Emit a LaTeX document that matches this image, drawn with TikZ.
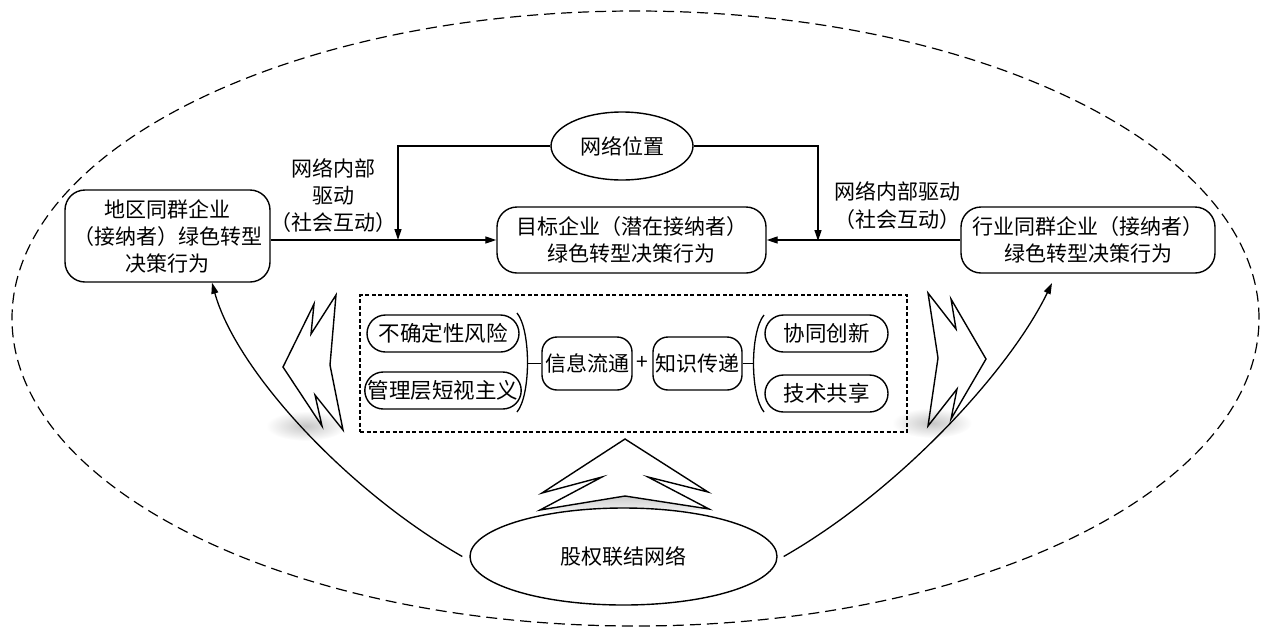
\documentclass[tikz,border=0pt]{standalone}
\usepackage{fontspec}
\setmainfont{Noto Sans CJK SC}
\usetikzlibrary{arrows.meta,shapes.geometric,shapes.misc}
\tikzset{
  base/.style={line width=1.3pt},
  txt/.style={font=\fontsize{21}{27}\selectfont, align=center, inner sep=0pt},
  bigbox/.style={txt, draw, line width=1.4pt, rounded corners=20pt},
  midbox/.style={txt, draw, line width=1.4pt, rounded corners=15pt},
  pill/.style={txt, draw, line width=1.4pt, rounded rectangle, font=\fontsize{21.5}{26}\selectfont},
  oval/.style={txt, draw, line width=1.4pt, ellipse},
  frame/.style={draw, line width=1.2pt, dash pattern=on 4pt off 2.5pt, inner sep=0pt},
  outer/.style={line width=1.2pt, dash pattern=on 11pt off 6pt},
  arr/.style={line width=1.3pt, -{Triangle[length=11pt,width=7pt]}},
  chev/.style={line width=1.4pt, line join=miter},
}
\begin{document}
\begin{tikzpicture}[x=1pt,y=-1pt]
\useasboundingbox (0,0) rectangle (1263,630);
% outer dashed ellipse
\draw[outer] (635.5,318.5) ellipse [x radius=623.5pt, y radius=307.5pt];

% shadows
\shade[inner color=gray!45, outer color=white] (306,426) ellipse [x radius=40pt, y radius=15pt];
\shade[inner color=gray!45, outer color=white] (932,423) ellipse [x radius=40pt, y radius=15pt];
\shade[top color=gray!40, bottom color=white] (540,510) -- (625,496) -- (709,509) -- (625,516) -- cycle;

% nodes
\node[oval, minimum width=142pt, minimum height=68pt] (pos) at (622,146) {网络位置};
\node[bigbox, minimum width=205pt, minimum height=92pt] (left) at (167.5,236) {地区同群企业\\（接纳者）绿色转型\\决策行为};
\node[bigbox, minimum width=269pt, minimum height=66pt] (center) at (631.5,240) {目标企业（潜在接纳者）\\绿色转型决策行为};
\node[bigbox, minimum width=254pt, minimum height=66pt] (right) at (1088,240) {行业同群企业（接纳者）\\绿色转型决策行为};
\node[txt] (labl) at (333,196) {网络内部\\驱动\\（社会互动）};
\node[txt, font=\fontsize{21}{28}\selectfont] (labr) at (897,206) {网络内部驱动\\（社会互动）};

\node[frame, minimum width=547pt, minimum height=137pt] (box) at (633.5,363.5) {};
\node[pill, minimum width=152pt, minimum height=37pt] (p1) at (443,333.5) {不确定性风险};
\node[pill, minimum width=152pt, minimum height=37pt] (p2) at (443,390.5) {管理层短视主义};
\node[midbox, minimum width=90pt, minimum height=53pt] (info) at (587,363.5) {信息流通};
\node[txt] (plus) at (642.5,363) {+};
\node[midbox, minimum width=89pt, minimum height=53pt] (know) at (697.5,363.5) {知识传递};
\node[pill, minimum width=123pt, minimum height=37pt] (p3) at (826.5,333.5) {协同创新};
\node[pill, minimum width=123pt, minimum height=37pt] (p4) at (826.5,393.5) {技术共享};

\node[oval, fill=white, minimum width=307pt, minimum height=97pt] (net) at (623.5,556.5) {股权联结网络};

% connectors at top
\coordinate (ljoin) at (398,240);
\coordinate (rjoin) at (818,241);
\draw[arr] (pos.west) -| (ljoin);
\draw[arr] (pos.east) -| (rjoin);
\draw[arr] (left.east |- center.west) -- (center.west);
\draw[arr] (right.west) -- (center.east);

% braces
\coordinate (lbt) at (517,313);
\coordinate (lbb) at (517,412);
\coordinate (lbm) at (527,363.5);
\draw[base] (lbt) .. controls (531,330) and (531,395) .. (lbb);
\draw[base] (lbm) -- (info.west);
\coordinate (rbt) at (764,315);
\coordinate (rbb) at (764,412);
\coordinate (rbm) at (753,363.5);
\draw[base] (rbt) .. controls (750,332) and (750,395) .. (rbb);
\draw[base] (know.east) -- (rbm);

% curved arrows
\draw[arr] ([xshift=-7pt]net.west) .. controls (346,490) and (236,370) .. ([xshift=44.5pt]left.south);
\draw[arr] ([xshift=6pt]net.east) .. controls (900,490) and (1010,370) .. (1052,283);

% chevron shapes
\draw[chev] (283,367) -- (314,304) -- (311,334) -- (336,295) -- (330,365) -- (343,430) -- (315,395) -- (322,426) -- cycle;
\draw[chev] (928,293) -- (956,329) -- (951,299) -- (986,359) -- (951,419) -- (957,389) -- (928,426) -- (938,358) -- cycle;
\draw[chev] (625,439) -- (542,493) -- (602,477) -- (540,510) -- (625,496) -- (709,509) -- (648,477) -- (708,492) -- cycle;
\end{tikzpicture}
\end{document}
